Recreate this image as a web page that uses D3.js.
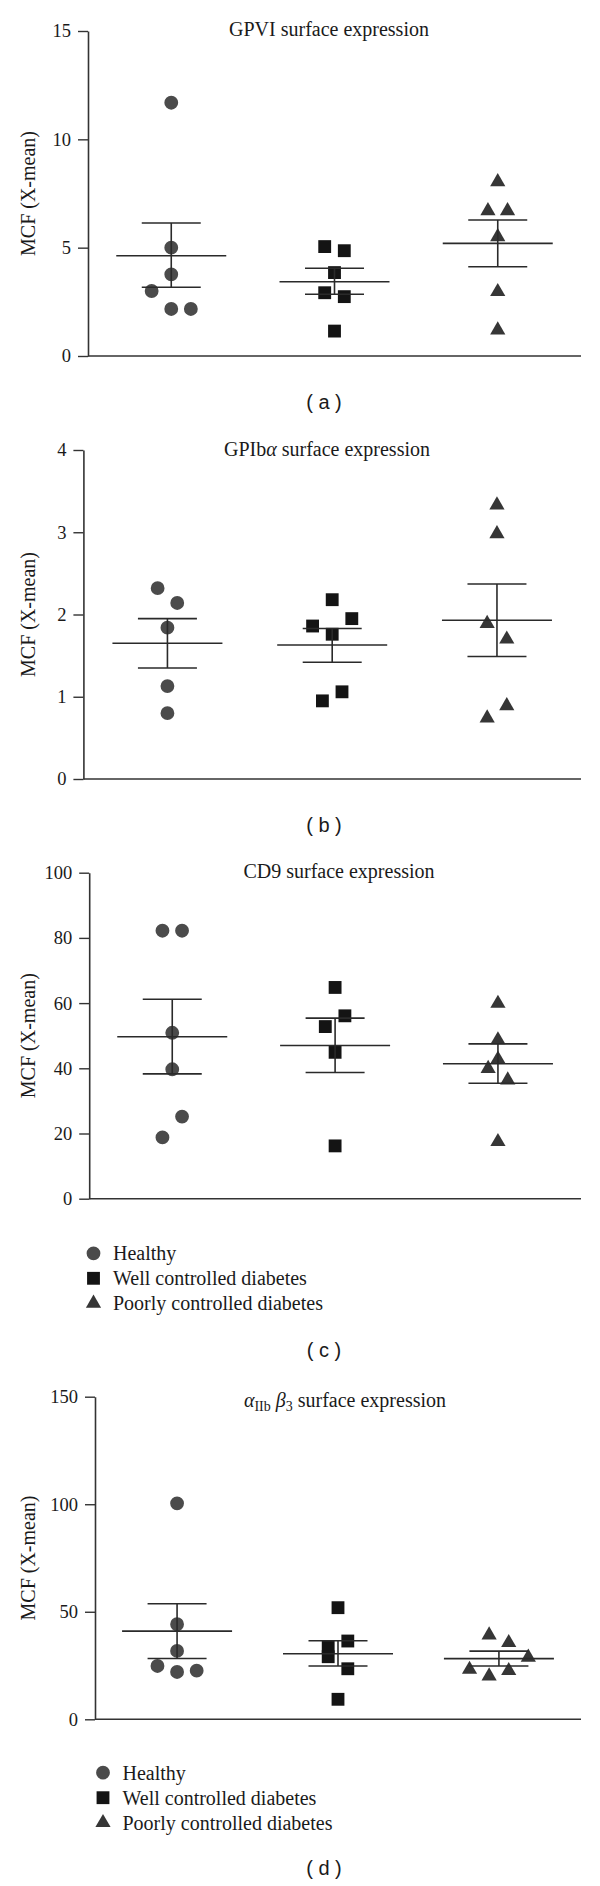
<!DOCTYPE html>
<html><head><meta charset="utf-8">
<script src="https://cdn.jsdelivr.net/npm/d3@7"></script>
<style>
body{margin:0;background:#fff;}
text{font-family:"Liberation Serif","Times New Roman",serif;fill:#1a1a1a;}
.plab{font-family:"Liberation Sans",Arial,sans-serif;}
</style></head>
<body><svg id="c" width="600" height="1886"></svg>
<script>
// ---------- data ----------
const groups = ["Healthy", "Well controlled diabetes", "Poorly controlled diabetes"];
const shapes = ["circle", "square", "triangle"];

// (a) GPVI
const gpviHealthy = [11.69, 5.0, 3.77, 3.0, 2.17, 2.17];
const gpviHealthyJit = [0, 0, 0, -2, 0, 2];
const gpviWell = [5.05, 4.86, 3.85, 2.92, 2.74, 1.15];
const gpviWellJit = [-1, 1, 0, -1, 1, 0];
const gpviPoor = [8.04, 6.7, 6.7, 5.5, 2.97, 1.2];
const gpviPoorJit = [0, -1, 1, 0, 0, 0];
const gpviMean = [4.63, 3.43, 5.2];
const gpviSemHi = [6.14, 4.05, 6.28];
const gpviSemLo = [3.17, 2.85, 4.12];
const gpviTicks = [0, 5, 10, 15];

// (b) GPIbα
const gpibHealthy = [2.32, 2.14, 1.84, 1.13, 0.80];
const gpibHealthyJit = [-1, 1, 0, 0, 0];
const gpibWell = [2.18, 1.95, 1.86, 1.76, 1.06, 0.95];
const gpibWellJit = [0, 2, -2, 0, 1, -1];
const gpibPoor = [3.33, 2.98, 1.89, 1.70, 0.89, 0.74];
const gpibPoorJit = [0, 0, -1, 1, 1, -1];
const gpibMean = [1.65, 1.63, 1.93];
const gpibSemHi = [1.95, 1.83, 2.37];
const gpibSemLo = [1.35, 1.42, 1.49];
const gpibTicks = [0, 1, 2, 3, 4];

// (c) CD9
const cd9Healthy = [82.2, 82.2, 50.9, 39.7, 25.2, 18.8];
const cd9HealthyJit = [-1, 1, 0, 0, 1, -1];
const cd9Well = [64.8, 56.1, 52.8, 44.9, 16.2];
const cd9WellJit = [0, 1, -1, 0, 0];
const cd9Poor = [59.9, 48.7, 42.8, 39.9, 36.4, 17.5];
const cd9PoorJit = [0, 0, 0, -1, 1, 0];
const cd9Mean = [49.7, 47.0, 41.4];
const cd9SemHi = [61.2, 55.4, 47.5];
const cd9SemLo = [38.3, 38.7, 35.4];
const cd9Ticks = [0, 20, 40, 60, 80, 100];

// (d) αIIbβ3
const aibHealthy = [100.4, 44.2, 31.8, 24.8, 22.0, 22.6];
const aibHealthyJit = [0, 0, 0, -2, 0, 2];
const aibWell = [51.9, 36.4, 33.8, 29.1, 23.5, 9.3];
const aibWellJit = [0, 1, -1, -1, 1, 0];
const aibPoor = [39.2, 35.6, 28.8, 23.2, 22.6, 20.1];
const aibPoorJit = [-1, 1, 3, -3, 1, -1];
const aibMean = [41.0, 30.5, 28.2];
const aibSemHi = [53.7, 36.5, 31.7];
const aibSemLo = [28.3, 24.8, 24.8];
const aibTicks = [0, 50, 100, 150];

const yLabel = "MCF (X-mean)";

// ---------- layout ----------
const panels = [
  {vals:[gpviHealthy,gpviWell,gpviPoor], jit:[gpviHealthyJit,gpviWellJit,gpviPoorJit],
   mean:gpviMean, hi:gpviSemHi, lo:gpviSemLo, ticks:gpviTicks,
   top:31, bottom:356, ax:88, title:[["GPVI surface expression"]], tx:329, ty:36,
   lab:"( a )", ly:409, legend:null},
  {vals:[gpibHealthy,gpibWell,gpibPoor], jit:[gpibHealthyJit,gpibWellJit,gpibPoorJit],
   mean:gpibMean, hi:gpibSemHi, lo:gpibSemLo, ticks:gpibTicks,
   top:450, bottom:779, ax:83.4, title:[["GPIb"],["α","i"],[" surface expression"]], tx:327, ty:456,
   lab:"( b )", ly:832, legend:null},
  {vals:[cd9Healthy,cd9Well,cd9Poor], jit:[cd9HealthyJit,cd9WellJit,cd9PoorJit],
   mean:cd9Mean, hi:cd9SemHi, lo:cd9SemLo, ticks:cd9Ticks,
   top:872.7, bottom:1198.7, ax:89.2, title:[["CD9 surface expression"]], tx:339, ty:878,
   lab:"( c )", ly:1357, legend:{x:93.5, y:1253.3}},
  {vals:[aibHealthy,aibWell,aibPoor], jit:[aibHealthyJit,aibWellJit,aibPoorJit],
   mean:aibMean, hi:aibSemHi, lo:aibSemLo, ticks:aibTicks,
   top:1396.7, bottom:1719.3, ax:95, title:[["α","i"],["IIb","sub"],[" "],["β","i"],["3","sub"],[" surface expression"]], tx:345, ty:1406.7,
   lab:"( d )", ly:1875, legend:{x:103, y:1772.7}}
];
const xEnd = 581;
const jitUnit = 9.8;
const meanHalf = 55, semHalf = 29.5;
const fills = ["#4b4b4b", "#141414", "#363636"];
const symTypes = {circle:d3.symbolCircle, square:d3.symbolSquare, triangle:d3.symbolTriangle};
const symSizes = {circle:150, square:165, triangle:100};
const symbol = s => d3.symbol().type(symTypes[s]).size(symSizes[s])();

const svg = d3.select("#c");

panels.forEach(p => {
  const g = svg.append("g");
  const x = d3.scalePoint().domain(groups).range([p.ax, xEnd]).padding(0.51);
  const y = d3.scaleLinear().domain([0, d3.max(p.ticks)]).range([p.bottom, p.top]);

  // y axis
  const ya = g.append("g").attr("transform", `translate(${p.ax},0)`)
    .call(d3.axisLeft(y).tickValues(p.ticks).tickSize(10).tickSizeOuter(0).tickPadding(7).tickFormat(d3.format("d")));
  ya.select(".domain").attr("stroke", "#333").attr("stroke-width", 1.6);
  ya.selectAll(".tick line").attr("stroke", "#333").attr("stroke-width", 1.4);
  ya.selectAll(".tick text").attr("font-family", "Liberation Serif").attr("font-size", 18.5).attr("fill", "#1a1a1a");
  // x axis line
  g.append("line").attr("x1", p.ax).attr("x2", xEnd).attr("y1", y(0)).attr("y2", y(0))
    .attr("stroke", "#333").attr("stroke-width", 1.6);

  // y label
  g.append("text").attr("transform", `translate(35,${(p.top + p.bottom) / 2}) rotate(-90)`)
    .attr("text-anchor", "middle").attr("font-size", 20).text(yLabel);

  // title
  const t = g.append("text").attr("x", p.tx).attr("y", p.ty).attr("text-anchor", "middle").attr("font-size", 20);
  p.title.forEach(([s, style]) => {
    const ts = t.append("tspan").text(s);
    if (style === "i") ts.attr("font-style", "italic");
    if (style === "sub") ts.attr("font-size", 14).attr("baseline-shift", "-25%");
  });

  // points
  groups.forEach((grp, gi) => {
    const cx = x(grp);
    const pts = p.vals[gi].map((v, i) => ({v, j: p.jit[gi][i]}));
    g.selectAll(null).data(pts).enter().append("path")
      .attr("d", symbol(shapes[gi]))
      .attr("transform", d => `translate(${cx + d.j * jitUnit},${y(d.v)})`)
      .attr("fill", fills[gi]);
    // mean & SEM
    const ln = (x1, x2, y1, y2) => g.append("line").attr("x1", x1).attr("x2", x2).attr("y1", y1).attr("y2", y2)
      .attr("stroke", "#2a2a2a").attr("stroke-width", 1.6);
    ln(cx, cx, y(p.hi[gi]), y(p.lo[gi]));
    ln(cx - meanHalf, cx + meanHalf, y(p.mean[gi]), y(p.mean[gi]));
    ln(cx - semHalf, cx + semHalf, y(p.hi[gi]), y(p.hi[gi]));
    ln(cx - semHalf, cx + semHalf, y(p.lo[gi]), y(p.lo[gi]));
  });

  // legend
  if (p.legend) {
    groups.forEach((grp, gi) => {
      const ly = p.legend.y + gi * 25;
      g.append("path").attr("d", symbol(shapes[gi])).attr("transform", `translate(${p.legend.x},${ly})`).attr("fill", fills[gi]);
      g.append("text").attr("x", p.legend.x + 19.5).attr("y", ly + 7).attr("font-size", 20).text(grp);
    });
  }

  // panel label
  g.append("text").attr("class", "plab").attr("x", 324).attr("y", p.ly).attr("text-anchor", "middle")
    .attr("font-size", 20).text(p.lab);
});
</script></body></html>
